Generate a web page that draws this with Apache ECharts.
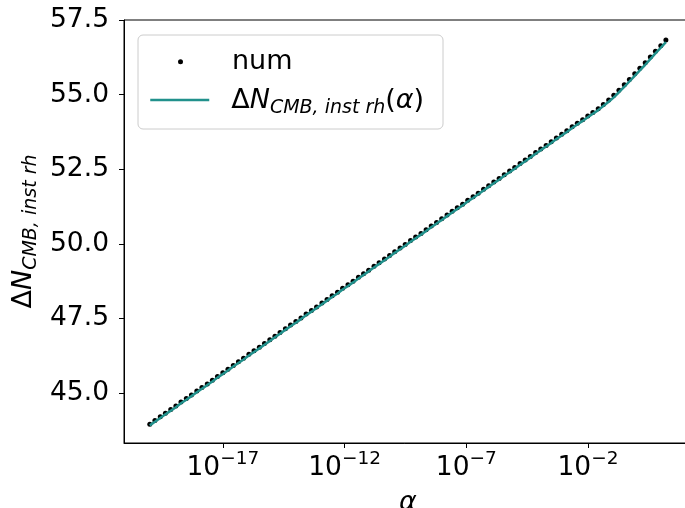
<!DOCTYPE html>
<html>
<head>
<meta charset="utf-8">
<script src="https://cdn.jsdelivr.net/npm/echarts@6/dist/echarts.min.js"></script>
<style>
  html, body { margin: 0; padding: 0; background: #ffffff; }
  #chart { width: 685px; height: 508px; }
</style>
</head>
<body>
<div id="chart"></div>
<script>
// log10(alpha) sample points
const logAlpha = [
  -20.00, -19.79, -19.57, -19.36, -19.14, -18.93, -18.72, -18.50, -18.29, -18.07,
  -17.86, -17.64, -17.43, -17.22, -17.00, -16.79, -16.57, -16.36, -16.15, -15.93,
  -15.72, -15.50, -15.29, -15.07, -14.86, -14.65, -14.43, -14.22, -14.00, -13.79,
  -13.58, -13.36, -13.15, -12.93, -12.72, -12.51, -12.29, -12.08, -11.86, -11.65,
  -11.43, -11.22, -11.01, -10.79, -10.58, -10.36, -10.15, -9.94, -9.72, -9.51,
  -9.29, -9.08, -8.86, -8.65, -8.44, -8.22, -8.01, -7.79, -7.58, -7.37,
  -7.15, -6.94, -6.72, -6.51, -6.29, -6.08, -5.87, -5.65, -5.44, -5.22,
  -5.01, -4.79, -4.58, -4.37, -4.15, -3.94, -3.72, -3.51, -3.30, -3.08,
  -2.87, -2.65, -2.44, -2.22, -2.01, -1.80, -1.58, -1.37, -1.15, -0.94,
  -0.73, -0.51, -0.30, -0.08, 0.13, 0.35, 0.56, 0.77, 0.99, 1.20
];

// numerical result
const numValues = [
  43.96, 44.08, 44.21, 44.33, 44.45, 44.57, 44.70, 44.82, 44.94, 45.07,
  45.19, 45.31, 45.43, 45.56, 45.68, 45.80, 45.93, 46.05, 46.17, 46.30,
  46.42, 46.54, 46.66, 46.79, 46.91, 47.03, 47.16, 47.28, 47.40, 47.52,
  47.65, 47.77, 47.89, 48.02, 48.14, 48.26, 48.38, 48.51, 48.63, 48.75,
  48.88, 49.00, 49.12, 49.25, 49.37, 49.49, 49.61, 49.74, 49.86, 49.98,
  50.11, 50.23, 50.35, 50.47, 50.60, 50.72, 50.84, 50.97, 51.09, 51.21,
  51.33, 51.46, 51.58, 51.70, 51.83, 51.95, 52.07, 52.19, 52.32, 52.44,
  52.56, 52.69, 52.81, 52.93, 53.06, 53.18, 53.30, 53.42, 53.55, 53.67,
  53.79, 53.92, 54.04, 54.16, 54.28, 54.40, 54.53, 54.67, 54.82, 54.98,
  55.15, 55.33, 55.51, 55.70, 55.88, 56.07, 56.26, 56.45, 56.64, 56.83
];

// analytic fit Delta N(alpha)
const fitValues = [
  43.92, 44.04, 44.17, 44.29, 44.41, 44.53, 44.66, 44.78, 44.90, 45.03,
  45.15, 45.27, 45.39, 45.52, 45.64, 45.76, 45.89, 46.01, 46.13, 46.26,
  46.38, 46.50, 46.62, 46.75, 46.87, 46.99, 47.12, 47.24, 47.36, 47.48,
  47.61, 47.73, 47.85, 47.98, 48.10, 48.22, 48.34, 48.47, 48.59, 48.71,
  48.84, 48.96, 49.08, 49.21, 49.33, 49.45, 49.57, 49.70, 49.82, 49.94,
  50.07, 50.19, 50.31, 50.43, 50.56, 50.68, 50.80, 50.93, 51.05, 51.17,
  51.29, 51.42, 51.54, 51.66, 51.79, 51.91, 52.03, 52.15, 52.28, 52.40,
  52.52, 52.65, 52.77, 52.89, 53.02, 53.14, 53.26, 53.38, 53.51, 53.63,
  53.75, 53.88, 54.00, 54.12, 54.24, 54.36, 54.48, 54.62, 54.76, 54.91,
  55.08, 55.26, 55.44, 55.63, 55.81, 56.00, 56.19, 56.38, 56.57, 56.76
];

const xTickExponents = [-17, -12, -7, -2];
const yTicks = [45.0, 47.5, 50.0, 52.5, 55.0, 57.5];

const FONT = 'DejaVu Sans';
const fitName = 'ΔN_CMB,inst rh(α)';
const fitColor = '#21918c';

// math-style text: upright Delta/parens, italic symbols, lowered italic subscript
const mathRich = {
  d: { fontFamily: FONT, fontSize: 27, color: '#000', lineHeight: 36, verticalAlign: 'top', padding: [5, 0, 0, 0] },
  n: { fontFamily: FONT, fontSize: 27, fontStyle: 'italic', color: '#000', lineHeight: 36, verticalAlign: 'top', padding: [5, 0, 0, 0] },
  s: { fontFamily: FONT, fontSize: 19, fontStyle: 'italic', color: '#000', lineHeight: 36, verticalAlign: 'top', padding: [16.7, 0, 0, 0] }
};

const chart = echarts.init(document.getElementById('chart'), null, { renderer: 'canvas' });

chart.setOption({
  animation: false,
  backgroundColor: '#ffffff',
  grid: {
    left: 124, top: 20, width: 567.7, height: 423,
    show: true, borderColor: '#000', borderWidth: 1, backgroundColor: 'transparent',
    containLabel: false, outerBoundsMode: 'none'
  },
  xAxis: {
    type: 'value',
    min: -21.06, max: 2.26,
    name: 'α',
    nameLocation: 'middle',
    nameGap: 45,
    nameMoveOverlap: false,
    nameTextStyle: { fontFamily: FONT, fontSize: 27, fontStyle: 'italic', color: '#000', lineHeight: 30 },
    axisLine: { show: true, onZero: false, lineStyle: { color: '#000', width: 1 } },
    axisTick: { show: true, customValues: xTickExponents, length: 5, lineStyle: { color: '#000', width: 1 } },
    axisLabel: {
      show: true,
      customValues: xTickExponents,
      margin: 6.3,
      formatter: function (v) {
        return '{m|10}{s|' + (v < 0 ? '\u2212' : '') + Math.abs(v) + '}';
      },
      rich: {
        m: { fontFamily: FONT, fontSize: 26.5, color: '#000', lineHeight: 32, verticalAlign: 'top', padding: [5, 0, 0, 0] },
        s: { fontFamily: FONT, fontSize: 18.5, color: '#000', lineHeight: 32, verticalAlign: 'top' }
      }
    },
    splitLine: { show: false }
  },
  yAxis: {
    type: 'value',
    min: 43.33, max: 57.5,
    name: '{d|Δ}{n|N}{s|CMB, inst rh}',
    nameLocation: 'middle',
    nameRotate: 90,
    nameGap: 82.8,
    nameMoveOverlap: false,
    nameTextStyle: { rich: mathRich },
    axisLine: { show: true, onZero: false, lineStyle: { color: '#000', width: 1 } },
    axisTick: { show: true, customValues: yTicks, length: 5, lineStyle: { color: '#000', width: 1 } },
    axisLabel: {
      show: true,
      customValues: yTicks,
      margin: 15,
      fontFamily: FONT, fontSize: 26.5, color: '#000',
      padding: [5, 0, 0, 0],
      formatter: function (v) { return v.toFixed(1); }
    },
    splitLine: { show: false }
  },
  graphic: [{
    type: 'rect',
    z: 3,
    shape: { x: 138, y: 35, width: 305, height: 94, r: 5 },
    style: { fill: 'rgba(255,255,255,0.8)', stroke: '#cccccc', lineWidth: 1 }
  }],
  legend: [
    {
      data: [{ name: 'num', icon: 'circle' }],
      left: 178, top: 43.7, padding: 0,
      itemWidth: 59, itemHeight: 5,
      selectedMode: false,
      itemStyle: { opacity: 1 },
      textStyle: { fontFamily: FONT, fontSize: 27, color: '#000', lineHeight: 30, padding: [0, 0, 6, 17] }
    },
    {
      data: [{ name: fitName }],
      left: 149, top: 82, padding: 0,
      itemWidth: 59, itemHeight: 6,
      selectedMode: false,
      // only the line sample, no marker in its middle
      itemStyle: { color: 'rgba(0,0,0,0)', borderWidth: 0, opacity: 0 },
      lineStyle: { color: fitColor, width: 2.5, opacity: 1 },
      formatter: function () { return '{d|Δ}{n|N}{s|CMB, inst rh}{d|(}{n|α}{d|)}'; },
      textStyle: { rich: mathRich, padding: [0, 0, 0, 17] }
    }
  ],
  series: [
    {
      name: 'num',
      type: 'scatter',
      symbol: 'circle',
      symbolSize: 5,
      itemStyle: { color: '#000', opacity: 1 },
      z: 2,
      data: logAlpha.map((x, i) => [x, numValues[i]])
    },
    {
      name: fitName,
      type: 'line',
      symbol: 'none',
      showSymbol: false,
      smooth: false,
      lineStyle: { color: fitColor, width: 2.5 },
      itemStyle: { color: fitColor },
      z: 3,
      data: logAlpha.map((x, i) => [x, fitValues[i]])
    }
  ]
});
</script>
</body>
</html>
